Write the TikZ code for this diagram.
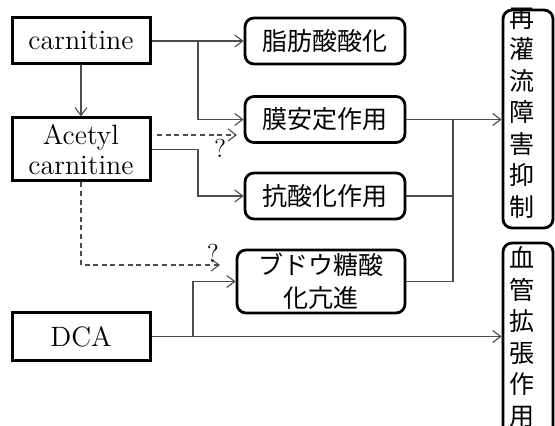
\documentclass[tikz,border=0pt]{standalone}
\usepackage{fontspec}
\newfontfamily\cjk{Noto Sans CJK JP}
\usetikzlibrary{arrows.meta}
\begin{document}
\begin{tikzpicture}[x=0.5pt,y=-0.5pt,
  sq/.style={draw=black,line width=1.5pt,inner sep=0pt,align=center,font=\fontsize{14}{15}\selectfont},
  rd/.style={draw=black,line width=1.4pt,rounded corners=4.5pt,inner sep=0pt,align=center,font=\cjk\fontsize{12.5}{16.5}\selectfont},
  vt/.style={draw=none,inner sep=0pt,align=center,font=\cjk\fontsize{12.5}{15.75}\selectfont},
  conn/.style={draw=black!70,line width=0.55pt,-{Straight Barb[length=4pt,width=6pt]}},
  plain/.style={draw=black!70,line width=0.55pt},
  dconn/.style={draw=black!70,line width=0.55pt,dash pattern=on 2.5pt off 1.8pt,-{Straight Barb[length=4pt,width=6pt]}},
  q/.style={inner sep=0pt,font=\fontsize{13}{14}\selectfont}]
\useasboundingbox (0,0) rectangle (555,426);
\clip (0,0) rectangle (555,426);
\fill[white] (0,0) rectangle (555,426);
% left boxes
\node[sq,minimum width=69pt,minimum height=23pt] (carn) at (81,41) {carnitine};
\node[sq,minimum width=69pt,minimum height=31.5pt] (acet) at (81,149.5) {Acetyl\\carnitine};
\node[sq,minimum width=69pt,minimum height=23.5pt] (dca) at (81,336.5) {DCA};
% middle boxes
\node[rd,minimum width=80pt,minimum height=23pt] (fa) at (325,41) {脂肪酸酸化};
\node[rd,minimum width=80pt,minimum height=23pt] (mem) at (325,119.5) {膜安定作用};
\node[rd,minimum width=80pt,minimum height=23pt] (anti) at (325,196) {抗酸化作用};
\node[rd,minimum width=84pt,minimum height=31.5pt] (glu) at (321,281.5) {ブドウ糖酸\\化亢進};
% right boxes
\node[rd,minimum width=25pt,minimum height=109pt] (rep) at (528,119) {};
\node[vt] (reptxt) at (522,113) {再\\灌\\流\\障\\害\\抑\\制};
\node[rd,minimum width=25pt,minimum height=100pt] (vas) at (528,343) {};
\node[vt] (vastxt) at (522,337) {血\\管\\拡\\張\\作\\用};
% coordinates
\coordinate (j1) at (198,41);
\coordinate (j2) at (198,149.5);
\coordinate (j3) at (193,336.5);
\coordinate (j4) at (453,119.5);
\coordinate (d1s) at (157,135);
\coordinate (d1e) at (237,135);
\coordinate (d2e) at (220,265);
% connectors
\draw[conn] (carn.east) -- (fa.west);
\draw[conn] (j1) |- (mem.west);
\draw[conn] (carn.south) -- (acet.north);
\draw[dconn] (d1s) -- (d1e);
\draw[conn] (acet.east) -- (j2) |- (anti.west);
\draw[dconn] (acet.south) |- (d2e);
\draw[conn] (dca.east) -- (dca.east -| vas.west);
\draw[conn] (j3) |- (glu.west);
\draw[conn] (mem.east) -- (mem.east -| rep.west);
\draw[plain] (anti.east) -| (j4);
\draw[plain] (glu.east) -| (j4);
% labels
\node[q] (q1) at (220,148) {?};
\node[q] (q2) at (213,253) {?};
\end{tikzpicture}
\end{document}
